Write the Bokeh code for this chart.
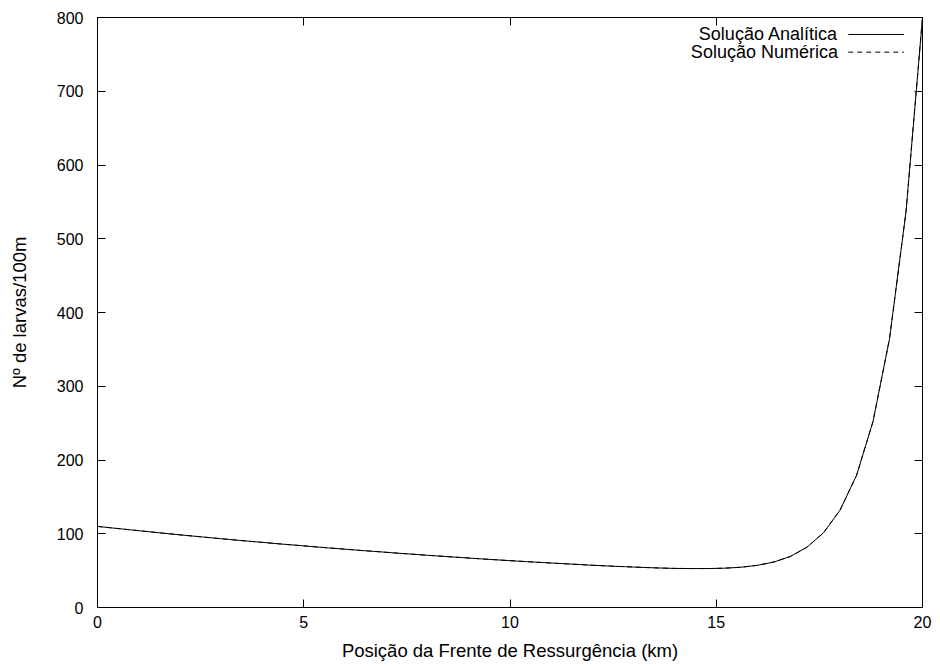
from bokeh.plotting import figure
from bokeh.models import (Range1d, FixedTicker, LinearAxis, CustomJSTickFormatter,
                          Label, Arrow)
from bokeh.embed import file_html
from bokeh.resources import INLINE

# Larval density along the upwelling front position (km)
posicao_km = [0.0, 0.4, 0.8, 1.2, 1.6, 2.0, 2.4, 2.8, 3.2, 3.6,
              4.0, 4.4, 4.8, 5.2, 5.6, 6.0, 6.4, 6.8, 7.2, 7.6,
              8.0, 8.4, 8.8, 9.2, 9.6, 10.0, 10.4, 10.8, 11.2, 11.6,
              12.0, 12.4, 12.8, 13.2, 13.6, 14.0, 14.4, 14.8, 15.2, 15.6,
              16.0, 16.4, 16.8, 17.2, 17.6, 18.0, 18.4, 18.8, 19.2, 19.6,
              20.0]

solucao_analitica = [110.0, 107.6, 105.3, 103.0, 100.7, 98.5, 96.4, 94.3, 92.2, 90.2,
                     88.3, 86.3, 84.5, 82.6, 80.8, 79.1, 77.3, 75.7, 74.0, 72.4,
                     70.8, 69.3, 67.8, 66.3, 64.9, 63.5, 62.2, 60.9, 59.7, 58.5,
                     57.3, 56.2, 55.3, 54.4, 53.6, 53.0, 52.8, 52.8, 53.3, 54.6,
                     57.2, 61.7, 69.3, 81.8, 101.3, 131.9, 179.0, 252.2, 364.3, 536.5,
                     800.0]

solucao_numerica = [110.0, 107.6, 105.3, 103.0, 100.7, 98.5, 96.4, 94.3, 92.2, 90.2,
                    88.3, 86.3, 84.5, 82.6, 80.8, 79.1, 77.3, 75.7, 74.0, 72.4,
                    70.8, 69.3, 67.8, 66.3, 64.9, 63.5, 62.2, 60.9, 59.7, 58.5,
                    57.3, 56.2, 55.3, 54.4, 53.6, 53.0, 52.8, 52.8, 53.3, 54.6,
                    57.2, 61.7, 69.3, 81.8, 101.3, 131.9, 179.0, 252.2, 364.3, 536.5,
                    800.0]

x_ticks = [0, 5, 10, 15, 20]
y_ticks = [0, 100, 200, 300, 400, 500, 600, 700, 800]

FONT = "Liberation Sans"

p = figure(width=940, height=667, output_backend="svg", toolbar_location=None,
           x_range=Range1d(0, 20), y_range=Range1d(0, 800),
           min_border_left=97, min_border_right=18, min_border_top=17,
           min_border_bottom=60, background_fill_color="white",
           border_fill_color="white")

p.xgrid.visible = False
p.ygrid.visible = False
p.outline_line_color = "black"
p.outline_line_width = 1
p.outline_line_alpha = 1.0

def style_axis(ax, ticker):
    ax.ticker = FixedTicker(ticks=ticker)
    ax.major_tick_in = 8
    ax.major_tick_out = 0
    ax.minor_tick_in = 0
    ax.minor_tick_out = 0
    ax.axis_line_color = "black"
    ax.major_tick_line_color = "black"
    ax.major_label_text_font = FONT
    ax.major_label_text_font_size = "16px"
    ax.major_label_text_color = "black"
    ax.axis_label_text_font = FONT
    ax.axis_label_text_font_size = "18.5px"
    ax.axis_label_text_font_style = "normal"
    ax.axis_label_text_color = "black"

style_axis(p.xaxis[0], x_ticks)
style_axis(p.yaxis[0], y_ticks)
p.xaxis[0].axis_label = "Posição da Frente de Ressurgência (km)"
p.yaxis[0].axis_label = "Nº de larvas/100m"
p.xaxis[0].major_label_standoff = 8
p.yaxis[0].major_label_standoff = 14
p.xaxis[0].axis_label_standoff = 9
p.yaxis[0].axis_label_standoff = 24

# mirrored ticks on the top and right edges, without labels
blank = CustomJSTickFormatter(code="return ''")
top = LinearAxis(formatter=blank, major_label_standoff=0)
right = LinearAxis(formatter=blank, major_label_standoff=0)
style_axis(top, x_ticks)
style_axis(right, y_ticks)
top.major_label_text_font_size = "1px"
right.major_label_text_font_size = "1px"
p.add_layout(top, "above")
p.add_layout(right, "right")

p.line(posicao_km, solucao_analitica, line_color="black", line_width=1)
p.line(posicao_km, solucao_numerica, line_color="black", line_width=1,
       line_dash="5 4")

# key in the upper right corner: text right-aligned, sample to its right
key_text_x = 17.95
key_line_x0, key_line_x1 = 18.2, 19.55
key_rows = [(777, "Solução Analítica", "solid"),
            (753, "Solução Numérica", "5 4")]
for yk, txt, dash in key_rows:
    p.add_layout(Label(x=key_text_x, y=yk, text=txt, text_align="right",
                       text_baseline="middle", text_font=FONT,
                       text_font_size="18px", text_color="black"))
    p.add_layout(Arrow(start=None, end=None, x_start=key_line_x0, y_start=yk,
                       x_end=key_line_x1, y_end=yk, line_color="black",
                       line_width=1, line_dash=dash))

open("out.html", "w").write(file_html(p, INLINE))
